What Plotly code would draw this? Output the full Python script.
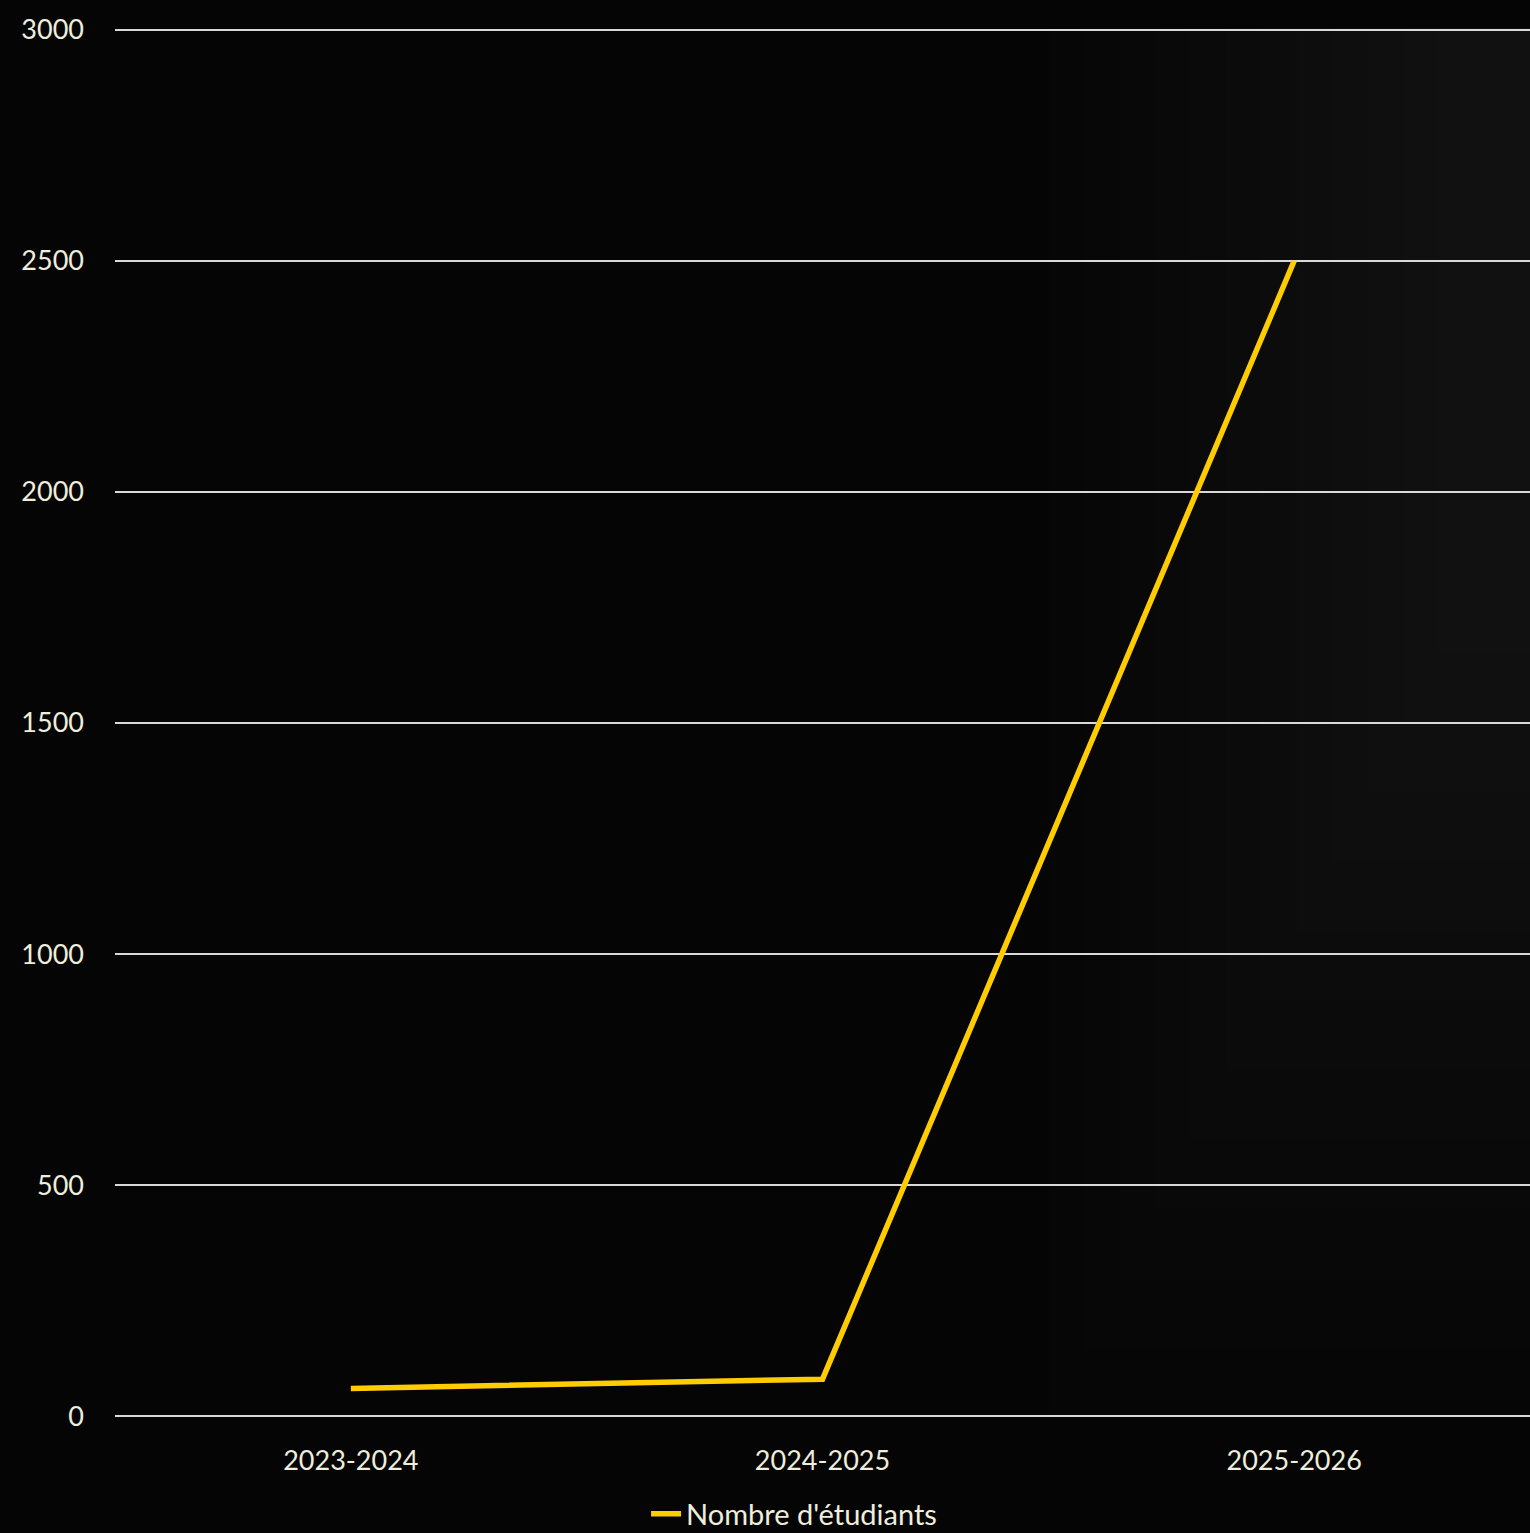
import plotly.graph_objects as go

categories = ["2023-2024", "2024-2025", "2025-2026"]
students = [60, 80, 2500]
y_ticks = [0, 500, 1000, 1500, 2000, 2500, 3000]

TEXT = "#EEEEDD"
FONT = "Lato"
FS = 27

fig = go.Figure()
fig.add_trace(go.Scatter(
    x=categories, y=students, mode="lines",
    name="Nombre d'étudiants",
    line=dict(color="#FFCC00", width=5.5),
))

# subtle background lightening toward the upper right
shapes = []
n = 12
for i in range(n):
    x0 = 0.66 + i * 0.025
    y0 = 0.0 + i * 0.05
    shapes.append(dict(type="rect", xref="paper", yref="paper", x0=x0, x1=1.0, y0=y0, y1=1.0,
                       fillcolor="rgba(255,255,255,0.007)", line=dict(width=0), layer="below"))

fig.update_layout(
    width=1530, height=1533,
    margin=dict(l=115, r=0, t=28, b=115, autoexpand=False),
    paper_bgcolor="#050505", plot_bgcolor="rgba(0,0,0,0)",
    font=dict(family=FONT, color=TEXT, size=FS),
    showlegend=True,
    legend=dict(orientation="h", xref="container", yref="container",
                x=0.519, xanchor="center", y=0.0125, yanchor="middle",
                font=dict(family=FONT, color=TEXT, size=29), bgcolor="rgba(0,0,0,0)"),
    xaxis=dict(type="category", range=[-0.5, 2.5], showgrid=False, zeroline=False,
               showline=False, ticks="", ticklabelstandoff=24,
               tickfont=dict(family=FONT, color=TEXT, size=FS)),
    yaxis=dict(range=[-4, 3004], tickvals=y_ticks, ticktext=[str(v) for v in y_ticks],
               showgrid=True, gridcolor="#D9D9D9", gridwidth=2, zeroline=False,
               showline=False, ticks="", ticklabelstandoff=30,
               tickfont=dict(family=FONT, color=TEXT, size=FS)),
    shapes=shapes,
)
fig.write_html("out.html", config={"displayModeBar": False},
               post_script="document.body.style.margin='0';document.body.style.background='#050505';")
